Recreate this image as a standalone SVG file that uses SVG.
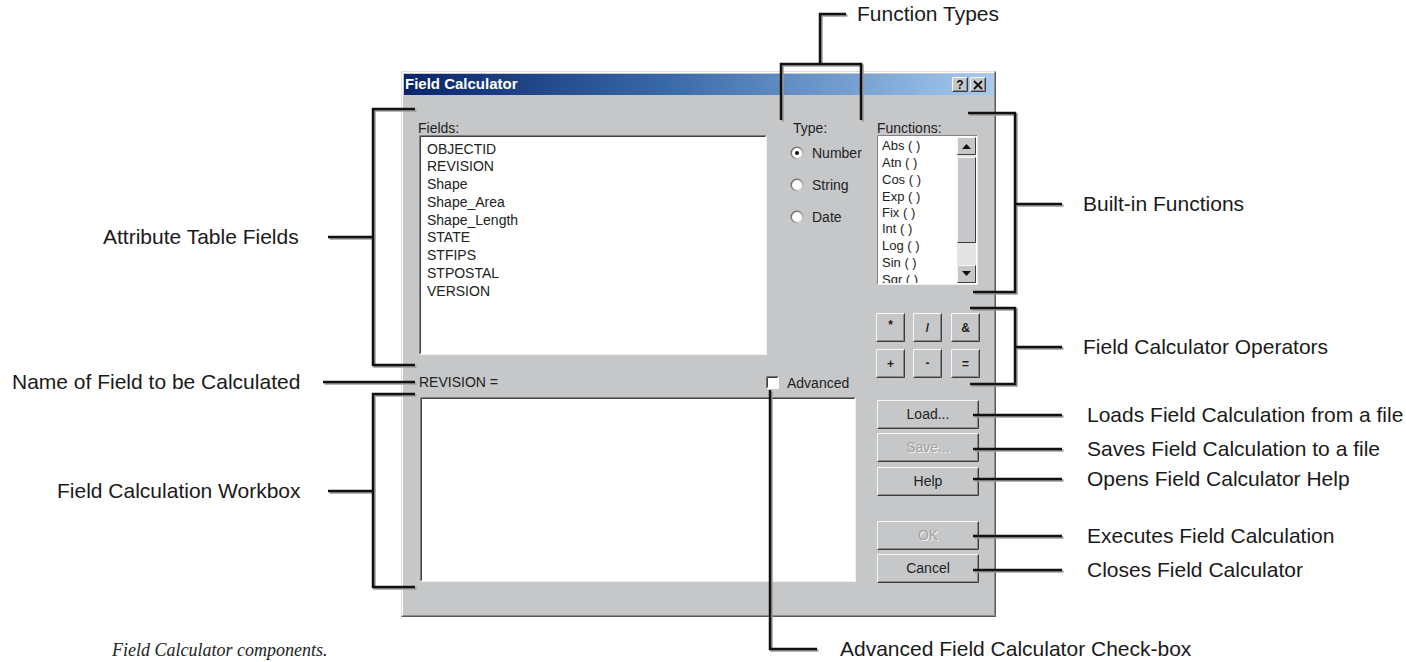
<svg xmlns="http://www.w3.org/2000/svg" xmlns:xlink="http://www.w3.org/1999/xlink" width="1406" height="662" viewBox="0 0 1406 662">
  <style>
    .lbl { font-family: "Liberation Sans", Arial, sans-serif; font-size: 21px; fill: #1a1a1a; }
    .ui { font-family: "Liberation Sans", Arial, sans-serif; font-size: 14px; fill: #222; }
    .fn { font-family: "Liberation Sans", Arial, sans-serif; font-size: 13px; fill: #222; }
    .op { font-family: "Liberation Sans", Arial, sans-serif; font-size: 12px; font-weight: bold; fill: #222; text-anchor: middle; }
    .btxt { font-family: "Liberation Sans", Arial, sans-serif; font-size: 14px; fill: #222; text-anchor: middle; }
    .dis { fill: #a2a2a2; }
    .disShadow { fill: #f4f4f4; }
    .cap { font-family: "Liberation Serif", "Times New Roman", serif; font-size: 18px; font-style: italic; fill: #222; }
    .title { font-family: "Liberation Sans", Arial, sans-serif; font-size: 15px; font-weight: bold; fill: #fff; }
    .hi { fill: none; stroke: #f6f6f6; stroke-width: 1; }
    .lo { fill: none; stroke: #3c3c3c; stroke-width: 1; }
    .mid { fill: none; stroke: #8a8a8a; stroke-width: 1; }
    .face { fill: #c6c7c9; }
  </style>
  <defs>
    <linearGradient id="titleGrad" x1="0" y1="0" x2="1" y2="0">
      <stop offset="0" stop-color="#0a246a"/>
      <stop offset="0.45" stop-color="#3a6aa8"/>
      <stop offset="1" stop-color="#a6caf0"/>
    </linearGradient>
    <!-- sunken radio circle: dark upper-left rim, light lower-right rim -->
    <linearGradient id="radioRim" x1="0" y1="0" x2="1" y2="1">
      <stop offset="0" stop-color="#5a5a5a"/>
      <stop offset="0.5" stop-color="#8a8a8a"/>
      <stop offset="1" stop-color="#f4f4f4"/>
    </linearGradient>
    <g id="radio">
      <circle cx="0" cy="0" r="6.5" fill="url(#radioRim)"/>
      <circle cx="0" cy="0" r="5" fill="#ffffff"/>
    </g>
    <!-- raised push button, 102 x 29 -->
    <g id="btn">
      <rect class="face" x="0" y="0" width="102" height="29"/>
      <path class="hi" d="M0.5,28.5 V0.5 H101.5"/>
      <path class="lo" d="M0.5,28.5 H101.5 V0.5"/>
      <path class="mid" d="M1.5,27.5 H100.5 V1.5"/>
    </g>
    <!-- small operator button, 29 x 29 -->
    <g id="opbtn">
      <rect class="face" x="0" y="0" width="29" height="29"/>
      <path class="hi" d="M0.5,28.5 V0.5 H28.5"/>
      <path class="lo" d="M0.5,28.5 H28.5 V0.5"/>
      <path class="mid" d="M1.5,27.5 H27.5 V1.5"/>
    </g>
    <!-- title bar button, 16 x 15 -->
    <g id="tbtn">
      <rect class="face" x="0" y="0" width="16" height="15"/>
      <path class="hi" d="M0.5,14.5 V0.5 H15.5"/>
      <path class="lo" d="M0.5,14.5 H15.5 V0.5"/>
      <path class="mid" d="M1.5,13.5 H14.5 V1.5"/>
    </g>
    <clipPath id="fnClip">
      <rect x="879" y="137" width="78" height="146"/>
    </clipPath>
    <!-- leader line geometry, stroked twice below (shadow + line) -->
    <g id="leaders">
      <path d="M846,14 H820 V64 M781,120 V64 H861 V120"/>
      <path d="M415,109 H373 V365 H415 M328,237 H373"/>
      <path d="M323,382 H415"/>
      <path d="M415,394 H373 V587 H415 M328,491 H373"/>
      <path d="M968,113 H1015 V292 H973 M1015,204 H1062"/>
      <path d="M970,308 H1015 V384 H970 M1015,347 H1062"/>
      <path d="M973,415 H1062"/>
      <path d="M973,449 H1062"/>
      <path d="M973,479 H1062"/>
      <path d="M973,536 H1062"/>
      <path d="M973,570 H1062"/>
      <path d="M770,390 V649 H817"/>
    </g>
  </defs>

  <rect x="0" y="0" width="1406" height="662" fill="#ffffff"/>

  <!-- dialog window -->
  <g id="dialog">
    <rect x="401" y="71" width="595" height="546" class="face"/>
    <path d="M401.5,616.5 V71.5 H995.5" fill="none" stroke="#dedede"/>
    <path d="M401.5,616.5 H995.5 V71.5" fill="none" stroke="#5a5a5a"/>
    <path d="M402.5,615.5 V72.5 H994.5" fill="none" stroke="#ffffff"/>
    <path d="M402.5,615.5 H994.5 V72.5" fill="none" stroke="#8e8e8e"/>
    <rect x="404" y="74" width="589" height="21" fill="url(#titleGrad)"/>
    <text class="title" x="405" y="89">Field Calculator</text>
    <use href="#tbtn" x="952" y="77"/>
    <text x="960" y="89" font-family="Liberation Sans, Arial, sans-serif" font-size="12" font-weight="bold" fill="#111" text-anchor="middle">?</text>
    <use href="#tbtn" x="970" y="77"/>
    <path d="M974,81 L982,89 M982,81 L974,89" stroke="#111" stroke-width="1.8"/>
  </g>

  <!-- field list -->
  <g id="fields">
    <text class="ui" x="418" y="133">Fields:</text>
    <rect x="419" y="135" width="348" height="220" fill="#ffffff"/>
    <path d="M419.5,354.5 V135.5 H766.5" fill="none" stroke="#808080"/>
    <path d="M420.5,353.5 V136.5 H765.5" fill="none" stroke="#404040"/>
    <path d="M419.5,354.5 H766.5 V135.5" fill="none" stroke="#f0f0f0"/>
    <text class="ui" x="427" y="154">OBJECTID</text>
    <text class="ui" x="427" y="171">REVISION</text>
    <text class="ui" x="427" y="189">Shape</text>
    <text class="ui" x="427" y="207">Shape_Area</text>
    <text class="ui" x="427" y="225">Shape_Length</text>
    <text class="ui" x="427" y="242">STATE</text>
    <text class="ui" x="427" y="260">STFIPS</text>
    <text class="ui" x="427" y="278">STPOSTAL</text>
    <text class="ui" x="427" y="296">VERSION</text>
  </g>

  <!-- function type radio buttons -->
  <g id="type">
    <text class="ui" x="793" y="133">Type:</text>
    <use href="#radio" x="797" y="153"/>
    <circle cx="797" cy="153" r="2" fill="#111"/>
    <text class="ui" x="812" y="158">Number</text>
    <use href="#radio" x="797" y="185"/>
    <text class="ui" x="812" y="190">String</text>
    <use href="#radio" x="797" y="217"/>
    <text class="ui" x="812" y="222">Date</text>
  </g>

  <!-- functions list with scroll bar -->
  <g id="functions">
    <text class="ui" x="877" y="133">Functions:</text>
    <rect x="877" y="135" width="101" height="150" fill="#ffffff"/>
    <path d="M877.5,284.5 V135.5 H977.5" fill="none" stroke="#808080"/>
    <path d="M877.5,284.5 H977.5 V135.5" fill="none" stroke="#f0f0f0"/>
    <g clip-path="url(#fnClip)">
      <text class="fn" x="882" y="150">Abs ( )</text>
      <text class="fn" x="882" y="167">Atn ( )</text>
      <text class="fn" x="882" y="184">Cos ( )</text>
      <text class="fn" x="882" y="201">Exp ( )</text>
      <text class="fn" x="882" y="217">Fix ( )</text>
      <text class="fn" x="882" y="233">Int ( )</text>
      <text class="fn" x="882" y="250">Log ( )</text>
      <text class="fn" x="882" y="267">Sin ( )</text>
      <text class="fn" x="882" y="284">Sqr ( )</text>
    </g>
    <rect x="957" y="137" width="19" height="146" fill="#e4e4e4"/>
    <rect x="957" y="137" width="19" height="18" class="face"/>
    <path class="hi" d="M957.5,154.5 V137.5 H975.5"/>
    <path class="lo" d="M957.5,154.5 H975.5 V137.5"/>
    <path d="M962,149 H971 L966.5,144 Z" fill="#111"/>
    <rect x="957" y="157" width="19" height="86" class="face"/>
    <path class="hi" d="M957.5,242.5 V157.5 H975.5"/>
    <path class="lo" d="M957.5,242.5 H975.5 V157.5"/>
    <rect x="957" y="265" width="19" height="18" class="face"/>
    <path class="hi" d="M957.5,282.5 V265.5 H975.5"/>
    <path class="lo" d="M957.5,282.5 H975.5 V265.5"/>
    <path d="M962,271 H971 L966.5,276 Z" fill="#111"/>
  </g>

  <!-- operator buttons -->
  <g id="operators">
    <use href="#opbtn" x="876" y="313"/>
    <text class="op" x="890.5" y="329">*</text>
    <use href="#opbtn" x="913" y="313"/>
    <text class="op" x="927.5" y="332">/</text>
    <use href="#opbtn" x="951" y="313"/>
    <text class="op" x="965.5" y="332">&amp;</text>
    <use href="#opbtn" x="876" y="349"/>
    <text class="op" x="890.5" y="368">+</text>
    <use href="#opbtn" x="913" y="349"/>
    <text class="op" x="927.5" y="367">-</text>
    <use href="#opbtn" x="951" y="349"/>
    <text class="op" x="965.5" y="368">=</text>
  </g>

  <!-- expression area -->
  <g id="expression">
    <text class="ui" x="419" y="387">REVISION =</text>
    <rect x="420" y="397" width="436" height="185" fill="#ffffff"/>
    <path d="M420.5,581.5 V397.5 H855.5" fill="none" stroke="#808080"/>
    <path d="M421.5,580.5 V398.5 H854.5" fill="none" stroke="#404040"/>
    <path d="M420.5,581.5 H855.5 V397.5" fill="none" stroke="#f0f0f0"/>
  </g>

  <g id="advanced">
    <rect x="766" y="376" width="13" height="13" fill="#ffffff"/>
    <path d="M766.5,388.5 V376.5 H778.5" fill="none" stroke="#707070"/>
    <path d="M767.5,387.5 V377.5 H777.5" fill="none" stroke="#404040"/>
    <text class="ui" x="787" y="388">Advanced</text>
  </g>

  <!-- command buttons -->
  <g id="btnLoad">
    <use href="#btn" x="877" y="400"/>
    <text class="btxt" x="928" y="419">Load...</text>
  </g>
  <g id="btnSave">
    <use href="#btn" x="877" y="433"/>
    <text class="btxt disShadow" x="929" y="453">Save...</text>
    <text class="btxt dis" x="928" y="452">Save...</text>
  </g>
  <g id="btnHelp">
    <use href="#btn" x="877" y="467"/>
    <text class="btxt" x="928" y="486">Help</text>
  </g>
  <g id="btnOK">
    <use href="#btn" x="877" y="521"/>
    <text class="btxt disShadow" x="929" y="541">OK</text>
    <text class="btxt dis" x="928" y="540">OK</text>
  </g>
  <g id="btnCancel">
    <use href="#btn" x="877" y="554"/>
    <text class="btxt" x="928" y="573">Cancel</text>
  </g>

  <!-- leader lines -->
  <g id="connectors" fill="none" stroke-width="2.5">
    <use href="#leaders" stroke="#9c9c9c" transform="translate(1.5,1.5)"/>
    <use href="#leaders" stroke="#111111"/>
  </g>

  <!-- callout labels -->
  <g id="lblFunctionTypes"><text class="lbl" x="857" y="21">Function Types</text></g>
  <g id="lblAttributeFields"><text class="lbl" x="103" y="244">Attribute Table Fields</text></g>
  <g id="lblFieldName"><text class="lbl" x="12" y="389">Name of Field to be Calculated</text></g>
  <g id="lblWorkbox"><text class="lbl" x="57" y="498">Field Calculation Workbox</text></g>
  <g id="lblBuiltIn"><text class="lbl" x="1083" y="211">Built-in Functions</text></g>
  <g id="lblOperators"><text class="lbl" x="1083" y="354">Field Calculator Operators</text></g>
  <g id="lblLoad"><text class="lbl" x="1087" y="422">Loads Field Calculation from a file</text></g>
  <g id="lblSave"><text class="lbl" x="1087" y="456">Saves Field Calculation to a file</text></g>
  <g id="lblHelp"><text class="lbl" x="1087" y="486">Opens Field Calculator Help</text></g>
  <g id="lblOK"><text class="lbl" x="1087" y="543">Executes Field Calculation</text></g>
  <g id="lblCancel"><text class="lbl" x="1087" y="577">Closes Field Calculator</text></g>
  <g id="lblAdvanced"><text class="lbl" x="840" y="656">Advanced Field Calculator Check-box</text></g>

  <text class="cap" x="112" y="656">Field Calculator components.</text>
</svg>
